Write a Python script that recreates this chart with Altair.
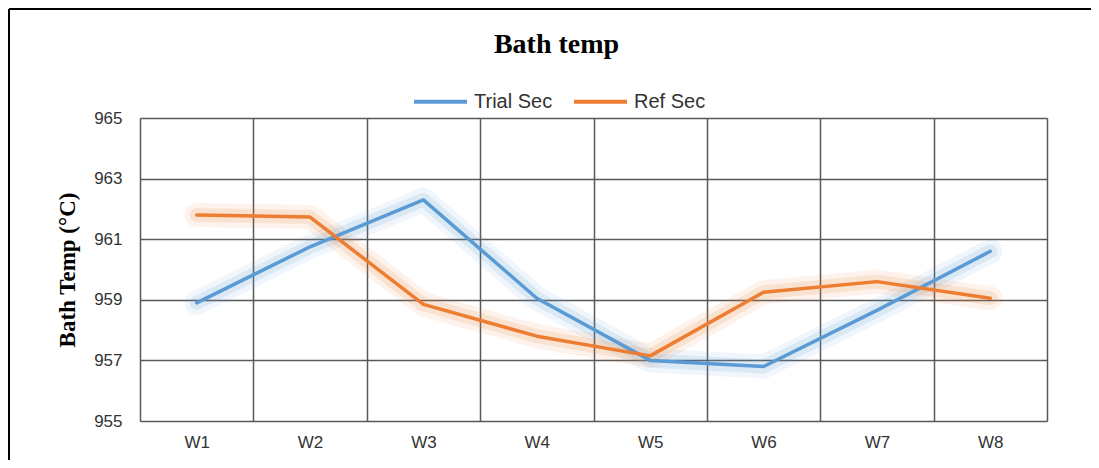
import altair as alt
import pandas as pd

weeks = ["W1", "W2", "W3", "W4", "W5", "W6", "W7", "W8"]
trial_sec = [958.9, 960.75, 962.3, 959.05, 957.0, 956.8, 958.65, 960.6]
ref_sec = [961.8, 961.73, 958.85, 957.8, 957.15, 959.25, 959.6, 959.05]
series_names = ["Trial Sec", "Ref Sec"]
series_colors = ["#5B9BD5", "#ED7D31"]
y_ticks = [955, 957, 959, 961, 963, 965]

rows = []
for name, vals in zip(series_names, [trial_sec, ref_sec]):
    for w, v in zip(weeks, vals):
        rows.append({"week": w, "temp": v, "series": name})
df = pd.DataFrame(rows)

x_enc = alt.X(
    "week:N",
    sort=weeks,
    bandPosition=0.5,
    scale=alt.Scale(type="band", paddingInner=0, paddingOuter=0),
    axis=alt.Axis(
        title=None, labelAngle=0, ticks=False, tickSize=0, domain=False,
        grid=True, tickBand="extent", gridColor="#595959", gridWidth=1.5, gridOpacity=1,
        labelFont="Liberation Sans", labelFontSize=17, labelColor="#333333", labelPadding=13,
    ),
)
y_enc = alt.Y(
    "temp:Q",
    scale=alt.Scale(domain=[955, 965], nice=False, zero=False),
    axis=alt.Axis(
        values=y_ticks, title="Bath Temp (°C)", ticks=False, tickSize=0, domain=False,
        grid=True, gridColor="#595959", gridWidth=1.5, gridOpacity=1,
        labelFont="Liberation Sans", labelFontSize=17, labelColor="#333333", labelPadding=18,
        titleFont="Liberation Serif", titleFontSize=23, titleFontWeight="bold", titleColor="#000000",
        titleAngle=270, titleX=-73, titleY=151.5, titleAlign="center", titleBaseline="middle",
    ),
)

legend = alt.Legend(
    title=None, orient="none", direction="horizontal", legendX=272, legendY=-45,
    symbolType="stroke", symbolSize=2809, symbolStrokeWidth=4,
    labelFont="Liberation Sans", labelFontSize=20, labelColor="#333333",
    labelOffset=5, columnPadding=13,
)
color_scale = alt.Scale(domain=series_names, range=series_colors)

glow1 = alt.Chart(df).mark_line(strokeWidth=24, strokeOpacity=0.09, strokeCap="round", strokeJoin="round").encode(
    x=x_enc, y=y_enc, color=alt.Color("series:N", scale=color_scale, legend=legend)
)
glow2 = alt.Chart(df).mark_line(strokeWidth=14, strokeOpacity=0.14, strokeCap="round", strokeJoin="round").encode(
    x=x_enc, y=y_enc, color=alt.Color("series:N", scale=color_scale, legend=legend)
)
lines = alt.Chart(df).mark_line(strokeWidth=3.5, strokeJoin="round", strokeCap="round").encode(
    x=x_enc, y=y_enc, color=alt.Color("series:N", scale=color_scale, legend=legend)
)

frame_top = alt.Chart(df).mark_rule(color="#000000", strokeWidth=2).encode(
    x=alt.value(-131), x2=alt.value(952), y=alt.value(-109)
)
frame_left = alt.Chart(df).mark_rule(color="#000000", strokeWidth=2).encode(
    x=alt.value(-131), y=alt.value(-109), y2=alt.value(345)
)

chart = alt.layer(glow1, glow2, lines, frame_top, frame_left).properties(
    width=907,
    height=303,
    autosize=alt.AutoSizeParams(type="none"),
    padding={"left": 132, "top": 110, "right": 44, "bottom": 39},
    title=alt.Title(
        "Bath temp", font="Liberation Serif", fontSize=28, fontWeight="bold",
        color="#000000", anchor="middle", dx=-37, baseline="alphabetic", dy=77,
    ),
).configure_view(stroke="#000000", strokeWidth=2).configure(background="#ffffff")

chart.save("out.html", embed_options={"renderer": "svg", "actions": False})
